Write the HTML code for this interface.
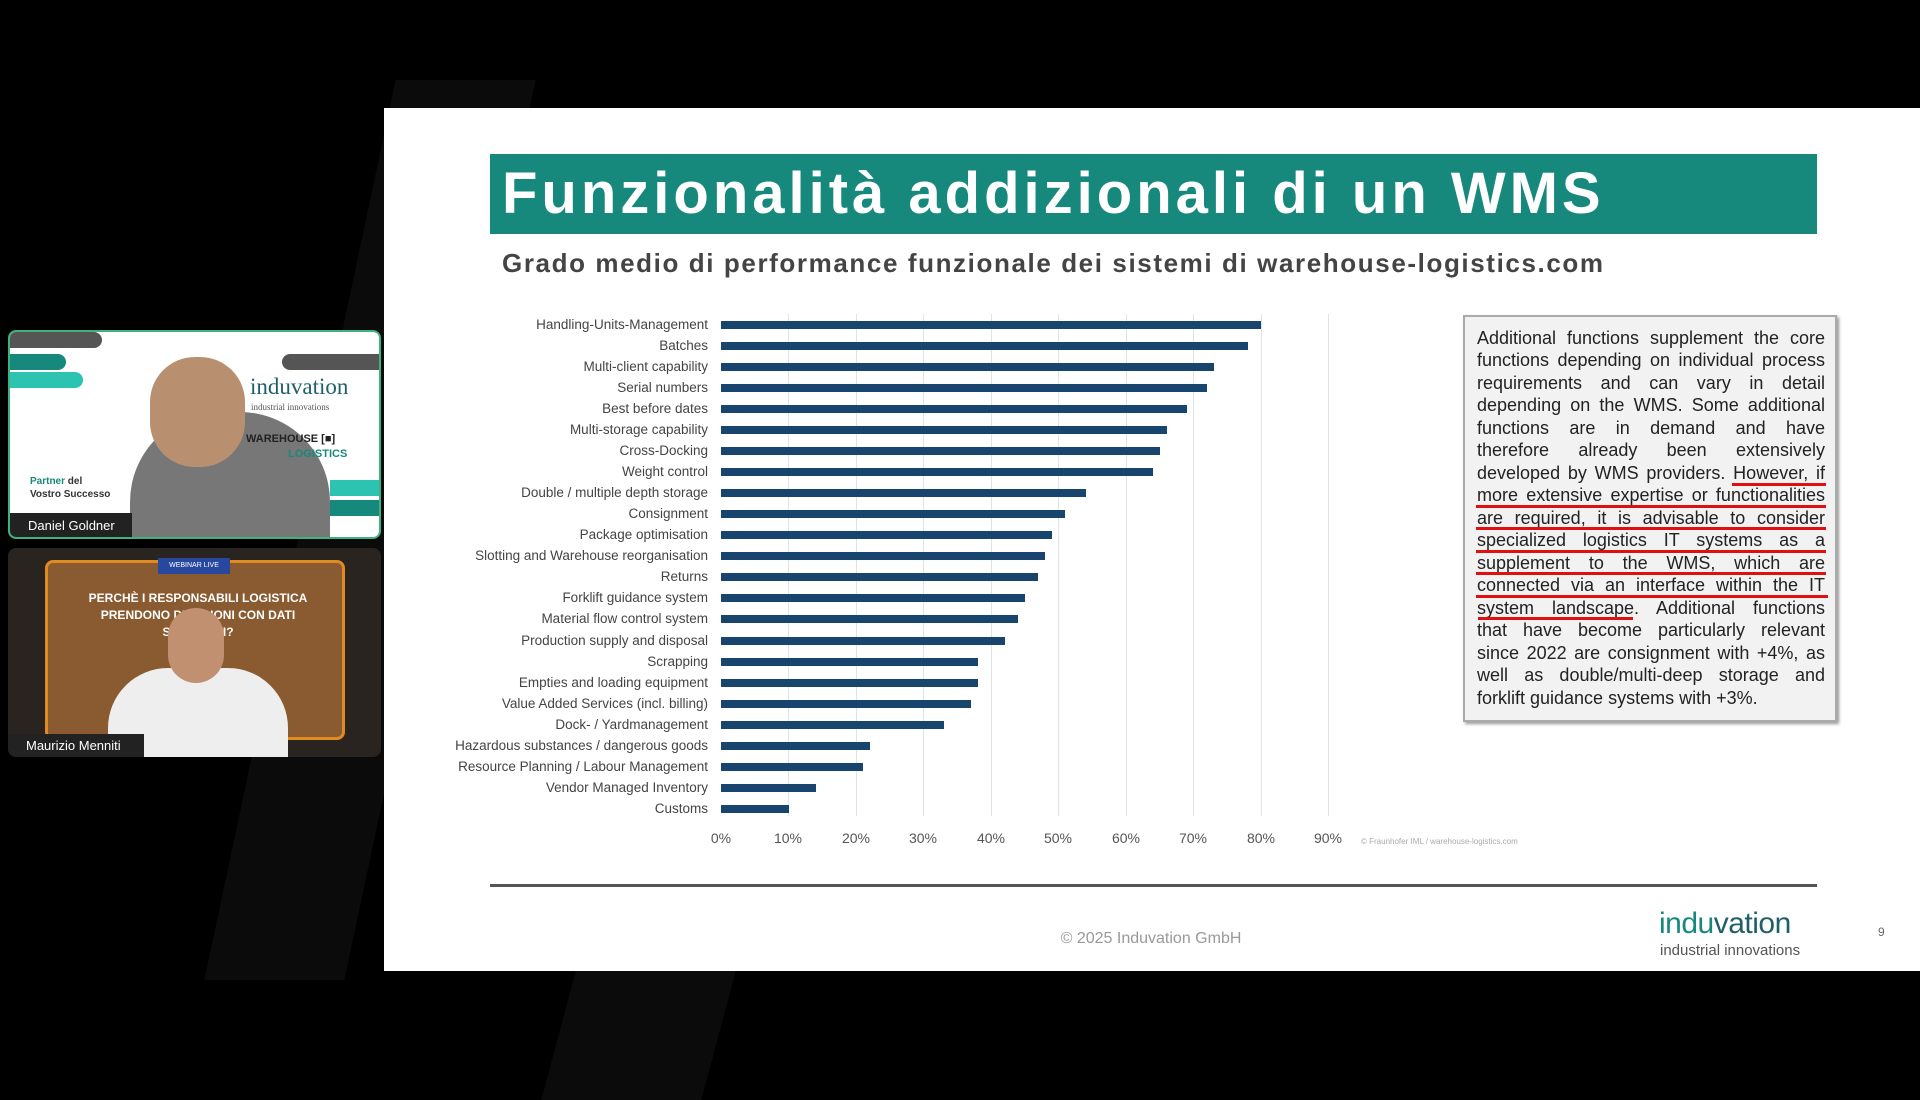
<!DOCTYPE html>
<html><head><meta charset="utf-8"><style>
*{margin:0;padding:0;box-sizing:border-box}
body{width:1920px;height:1080px;background:#000;position:relative;overflow:hidden;font-family:"Liberation Sans",sans-serif}
.abs{position:absolute}
.slide{left:384px;top:108px;width:1536px;height:863px;background:#fff}
.lbl{position:absolute;right:1212px;font-size:13.5px;color:#444;white-space:nowrap;line-height:16px}
.bar{position:absolute;left:721px;height:8px;background:#17456e}
.grid{position:absolute;top:314px;height:502px;width:1px;background:#dde3ea}
.tick{position:absolute;top:830px;font-size:14px;color:#555;width:50px;text-align:center}
.tl{position:absolute;left:1477px;width:348px;font-size:18px;color:#222;text-align:justify;text-align-last:justify;line-height:22px;white-space:nowrap;height:22px}
.ul{position:absolute;height:3px;background:#e01010}
</style></head><body>
<div class="abs" style="left:300px;top:80px;width:140px;height:900px;background:#0b0b0b;transform:skewX(-12deg)"></div>
<div class="abs" style="left:560px;top:960px;width:160px;height:140px;background:#0b0b0b;transform:skewX(-15deg)"></div>
<div class="abs slide"></div>
<div class="abs" style="left:490px;top:154px;width:1327px;height:80px;background:#17897c"></div>
<div class="abs" style="left:502px;top:154px;height:80px;line-height:80px;font-size:58px;font-weight:bold;color:#fff;letter-spacing:4px">Funzionalità addizionali di un WMS</div>
<div class="abs" style="left:502px;top:248px;font-size:26px;font-weight:bold;color:#444;letter-spacing:1.6px">Grado medio di performance funzionale dei sistemi di warehouse-logistics.com</div>

<div class="grid" style="left:788px"></div><div class="grid" style="left:856px"></div><div class="grid" style="left:923px"></div><div class="grid" style="left:991px"></div><div class="grid" style="left:1058px"></div><div class="grid" style="left:1126px"></div><div class="grid" style="left:1193px"></div><div class="grid" style="left:1261px"></div><div class="grid" style="left:1328px"></div>
<div id="bars"></div>
<div class="tick" style="left:696px">0%</div><div class="tick" style="left:763px">10%</div><div class="tick" style="left:831px">20%</div><div class="tick" style="left:898px">30%</div><div class="tick" style="left:966px">40%</div><div class="tick" style="left:1033px">50%</div><div class="tick" style="left:1101px">60%</div><div class="tick" style="left:1168px">70%</div><div class="tick" style="left:1236px">80%</div><div class="tick" style="left:1303px">90%</div>
<div class="abs" style="left:1361px;top:837px;font-size:8px;color:#aaa">© Fraunhofer IML / warehouse-logistics.com</div>

<div class="abs" style="left:1463px;top:315px;width:374px;height:407px;background:#f2f2f2;border:2px solid #aaa;box-shadow:2px 2px 3px #999"></div>
<div class="tl" style="top:327px">Additional functions supplement the core</div>
<div class="tl" style="top:349px">functions depending on individual process</div>
<div class="tl" style="top:372px">requirements and can vary in detail</div>
<div class="tl" style="top:394px">depending on the WMS. Some additional</div>
<div class="tl" style="top:417px">functions are in demand and have</div>
<div class="tl" style="top:439px">therefore already been extensively</div>
<div class="tl" style="top:462px">developed by WMS providers. However, if</div>
<div class="tl" style="top:484px">more extensive expertise or functionalities</div>
<div class="tl" style="top:507px">are required, it is advisable to consider</div>
<div class="tl" style="top:529px">specialized logistics IT systems as a</div>
<div class="tl" style="top:552px">supplement to the WMS, which are</div>
<div class="tl" style="top:574px">connected via an interface within the IT</div>
<div class="tl" style="top:597px">system landscape. Additional functions</div>
<div class="tl" style="top:619px">that have become particularly relevant</div>
<div class="tl" style="top:642px">since 2022 are consignment with +4%, as</div>
<div class="tl" style="top:664px">well as double/multi-deep storage and</div>
<div class="tl" style="top:687px;text-align-last:left">forklift guidance systems with +3%.</div>
<div class="ul" style="left:1732px;top:483px;width:94px"></div>
<div class="ul" style="left:1476px;top:505px;width:350px"></div>
<div class="ul" style="left:1476px;top:527px;width:350px"></div>
<div class="ul" style="left:1476px;top:550px;width:350px"></div>
<div class="ul" style="left:1476px;top:572px;width:350px"></div>
<div class="ul" style="left:1476px;top:595px;width:352px"></div>
<div class="ul" style="left:1478px;top:617px;width:155px"></div>

<div class="abs" style="left:490px;top:884px;width:1327px;height:3px;background:#555"></div>
<div class="abs" style="left:1000px;top:930px;width:302px;text-align:center;font-size:16px;color:#999">© 2025 Induvation GmbH</div>
<div class="abs" style="left:1659px;top:908px;font-family:'Liberation Sans',sans-serif;font-size:30px;color:#1f5f6a;line-height:32px;letter-spacing:-0.5px"><span style="color:#17897c">indu</span>vation</div>
<div class="abs" style="left:1660px;top:942px;font-family:'Liberation Sans',sans-serif;font-size:15px;color:#555">industrial innovations</div>
<div class="abs" style="left:1878px;top:925px;font-size:12px;color:#666">9</div>

<div class="abs" style="left:8px;top:330px;width:373px;height:209px;background:#fff;border:2px solid #3fb37f;border-radius:8px;overflow:hidden">
 <div class="abs" style="left:0;top:0;width:92px;height:16px;background:#555;border-radius:0 8px 8px 0"></div>
 <div class="abs" style="left:0;top:22px;width:56px;height:16px;background:#17897c;border-radius:0 8px 8px 0"></div>
 <div class="abs" style="left:0;top:40px;width:73px;height:16px;background:#2cc3b0;border-radius:0 8px 8px 0"></div>
 <div class="abs" style="left:272px;top:22px;width:101px;height:16px;background:#555;border-radius:8px 0 0 8px"></div>
 <div class="abs" style="left:320px;top:148px;width:53px;height:16px;background:#2cc3b0"></div>
 <div class="abs" style="left:320px;top:168px;width:53px;height:16px;background:#17897c"></div>
 <div class="abs" style="left:120px;top:80px;width:200px;height:140px;background:#777;border-radius:90px 90px 0 0"></div>
 <div class="abs" style="left:140px;top:25px;width:95px;height:110px;background:#b89070;border-radius:45px"></div>
 <div class="abs" style="left:240px;top:42px;font-family:'Liberation Serif',serif;font-size:23px;color:#1f5f6a">induvation</div>
 <div class="abs" style="left:241px;top:70px;font-family:'Liberation Serif',serif;font-size:9px;color:#555">industrial innovations</div>
 <div class="abs" style="left:236px;top:101px;font-size:11px;font-weight:bold;color:#222">WAREHOUSE [■]</div>
 <div class="abs" style="left:278px;top:116px;font-size:11px;font-weight:bold;color:#17897c">LOGISTICS</div>
 <div class="abs" style="left:20px;top:143px;font-size:10px;font-weight:bold;color:#333;line-height:13px"><span style="color:#17897c">Partner</span> del<br>Vostro Successo</div>
 <div class="abs" style="left:0;top:181px;width:122px;height:26px;background:#222;color:#fff;font-size:13px;line-height:26px;padding-left:18px">Daniel Goldner</div>
</div>
<div class="abs" style="left:8px;top:548px;width:373px;height:209px;background:#2a2420;border-radius:8px;overflow:hidden">
 <div class="abs" style="left:37px;top:12px;width:300px;height:180px;background:#8a5a30;border:3px solid #e08a20;border-radius:8px"></div>
 <div class="abs" style="left:150px;top:10px;width:72px;height:16px;background:#2848a0;color:#fff;font-size:7px;text-align:center;line-height:16px">WEBINAR LIVE</div>
 <div class="abs" style="left:60px;top:42px;width:260px;text-align:center;color:#fff;font-size:12px;font-weight:bold;line-height:17px">PERCHÈ I RESPONSABILI LOGISTICA<br>PRENDONO DECISIONI CON DATI SBAGLIATI?</div>
 <div class="abs" style="left:100px;top:120px;width:180px;height:100px;background:#eee;border-radius:60px 60px 0 0"></div>
 <div class="abs" style="left:160px;top:60px;width:56px;height:75px;background:#c09070;border-radius:28px"></div>
 <div class="abs" style="left:0;top:186px;width:136px;height:23px;background:#222;color:#fff;font-size:13px;line-height:23px;padding-left:18px">Maurizio Menniti</div>
</div>
<script>
var L=["Handling-Units-Management","Batches","Multi-client capability","Serial numbers","Best before dates","Multi-storage capability","Cross-Docking","Weight control","Double / multiple depth storage","Consignment","Package optimisation","Slotting and Warehouse reorganisation","Returns","Forklift guidance system","Material flow control system","Production supply and disposal","Scrapping","Empties and loading equipment","Value Added Services (incl. billing)","Dock- / Yardmanagement","Hazardous substances / dangerous goods","Resource Planning / Labour Management","Vendor Managed Inventory","Customs"];
var V=[80,78,73,72,69,66,65,64,54,51,49,48,47,45,44,42,38,38,37,33,22,21,14,10];
var h="";for(var i=0;i<24;i++){var y=324.5+i*21.07;h+='<div class="lbl" style="top:'+(y-8)+'px">'+L[i]+'</div><div class="bar" style="top:'+(y-4)+'px;width:'+(V[i]*6.75)+'px"></div>';}
document.getElementById("bars").innerHTML=h;
</script>
</body></html>
